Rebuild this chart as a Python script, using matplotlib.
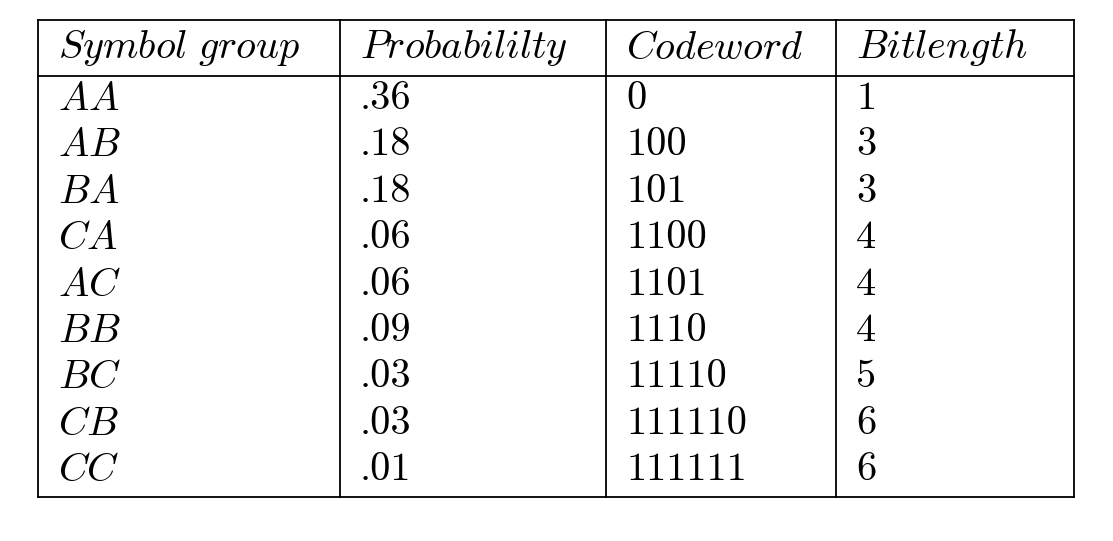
import matplotlib
matplotlib.use("Agg")
import matplotlib.pyplot as plt

plt.rcParams['mathtext.fontset'] = 'cm'
plt.rcParams['axes.unicode_minus'] = False

headers = ["Symbol\\ group", "Probabililty", "Codeword", "Bitlength"]
symbols = ["AA", "AB", "BA", "CA", "AC", "BB", "BC", "CB", "CC"]
probs = [".36", ".18", ".18", ".06", ".06", ".09", ".03", ".03", ".01"]
codes = ["0", "100", "101", "1100", "1101", "1110", "11110", "111110", "111111"]
bits = ["1", "3", "3", "4", "4", "4", "5", "6", "6"]

fig = plt.figure(figsize=(11.13, 5.41), dpi=100)
ax = fig.add_axes([0, 0, 1, 1])
ax.set_xlim(0, 1113)
ax.set_ylim(541, 0)
ax.axis('off')

left, right, top, head, bottom = 38, 1074, 20, 76, 497
seps = [left, 340, 606, 836, right]
lw = 1.3
for x in seps:
    ax.plot([x, x], [top, bottom], color='black', lw=lw)
for y in [top, head, bottom]:
    ax.plot([left, right], [y, y], color='black', lw=lw)

fs = 29
text_x = [s + 20 for s in seps[:4]]
for x, h in zip(text_x, headers):
    ax.text(x, 48, f"${h}$", fontsize=fs, va='center', ha='left')

row0, step = 99, 46.4
for i, s in enumerate(symbols):
    ax.text(text_x[0], row0 + i * step, f"${s}$", fontsize=fs, va='center', ha='left')
for x, col in zip(text_x[1:], [probs, codes, bits]):
    for i, t in enumerate(col):
        ax.text(x, row0 + i * step, t, fontsize=fs, family='cmr10',
                va='center', ha='left')

fig.savefig("out.png", dpi=100)
